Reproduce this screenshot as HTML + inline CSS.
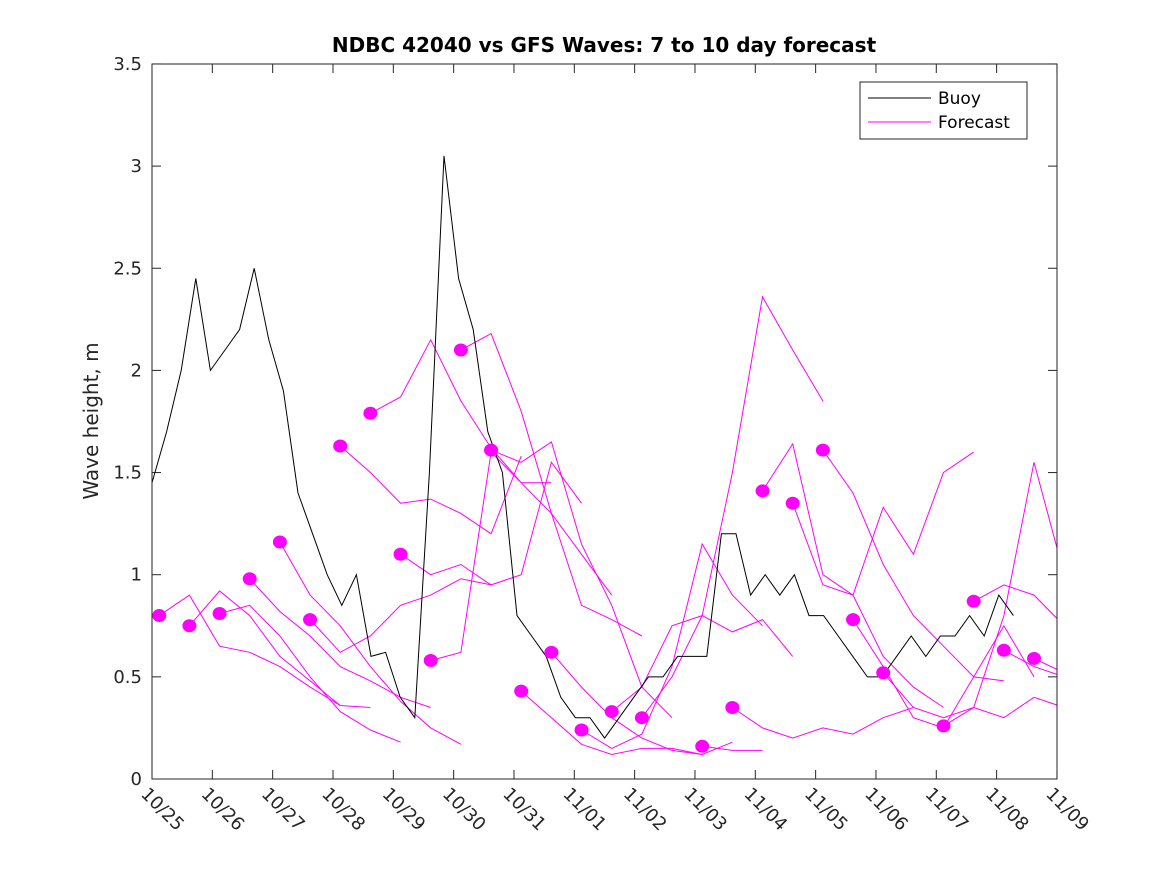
<!DOCTYPE html>
<html><head><meta charset="utf-8"><style>
body{margin:0;background:#fff;font-family:"DejaVu Sans","Liberation Sans",sans-serif}
svg text{font-family:"DejaVu Sans","Liberation Sans",sans-serif}
</style></head><body>
<svg id="chart" width="1167" height="875" viewBox="0 0 1167 875" xmlns="http://www.w3.org/2000/svg">
<defs><clipPath id="plotclip"><rect x="152" y="64" width="905" height="715"/></clipPath></defs>
<rect width="1167" height="875" fill="#fff"/>
<text x="604" y="52" text-anchor="middle" font-size="20" font-weight="bold" fill="#000">NDBC 42040 vs GFS Waves: 7 to 10 day forecast</text>
<text transform="translate(98,421) rotate(-90)" text-anchor="middle" font-size="20" fill="#262626">Wave height, m</text>
<g id="grid"></g>
<g id="marks" clip-path="url(#plotclip)"></g>
<rect x="152" y="64" width="905" height="715" fill="none" stroke="#262626" stroke-width="1"/>
<g>
<rect x="860" y="82" width="167" height="57" fill="#fff" stroke="#262626"/>
<line x1="868" y1="98" x2="931" y2="98" stroke="#000"/>
<text x="938" y="104" font-size="17" fill="#000">Buoy</text>
<line x1="868" y1="122" x2="931" y2="122" stroke="#ff00ff"/>
<text x="938" y="128" font-size="17" fill="#000">Forecast</text>
</g>
</svg>
<script>
const xLabels=["10/25","10/26","10/27","10/28","10/29","10/30","10/31","11/01","11/02","11/03","11/04","11/05","11/06","11/07","11/08","11/09"];
const yTicks=[0,0.5,1,1.5,2,2.5,3,3.5];
const buoyStep=0.242;
const buoyVals=[1.45,1.7,2.0,2.45,2.0,2.1,2.2,2.5,2.15,1.9,1.4,1.2,1.0,0.85,1.0,0.6,0.62,0.4,0.3,1.5,3.05,2.45,2.2,1.7,1.5,0.8,0.7,0.6,0.4,0.3,0.3,0.2,0.3,0.4,0.5,0.5,0.6,0.6,0.6,1.2,1.2,0.9,1.0,0.9,1.0,0.8,0.8,0.7,0.6,0.5,0.5,0.6,0.7,0.6,0.7,0.7,0.8,0.7,0.9,0.8];
const fcStep=0.5;
const fcStarts=[0.12,0.62,1.12,1.62,2.12,2.62,3.12,3.62,4.12,4.62,5.12,5.62,6.12,6.62,7.12,7.62,8.12,9.12,9.62,10.12,10.62,11.12,11.62,12.12,13.12,13.62,14.12,14.62];
const fcVals=[
[0.80,0.90,0.65,0.62,0.55,0.45,0.36],
[0.75,0.92,0.80,0.60,0.48,0.36,0.35],
[0.81,0.85,0.70,0.50,0.33,0.24,0.18],
[0.98,0.82,0.70,0.55,0.48,0.40,0.35],
[1.16,0.90,0.75,0.55,0.38,0.25,0.17],
[0.78,0.62,0.70,0.85,0.90,0.98,0.95],
[1.63,1.50,1.35,1.37,1.30,1.20,1.58],
[1.79,1.87,2.15,1.85,1.62,1.45,1.45],
[1.10,1.00,1.05,0.95,1.00,1.55,1.35],
[0.58,0.62,1.60,1.45,1.30,1.10,0.90],
[2.10,2.18,1.80,1.30,0.85,0.78,0.70],
[1.61,1.55,1.65,1.15,0.85,0.45,0.30],
[0.43,0.30,0.17,0.12,0.15,0.15,0.12],
[0.62,0.45,0.30,0.20,0.14,0.12,0.18],
[0.24,0.15,0.22,0.55,1.15,0.90,0.75],
[0.33,0.45,0.75,0.80,0.72,0.78,0.60],
[0.30,0.50,0.80,1.50,2.36,2.10,1.85],
[0.16,0.14,0.14],
[0.35,0.25,0.20,0.25,0.22,0.30,0.35],
[1.41,1.64,1.00,0.90,0.60,0.45,0.35],
[1.35,0.95,0.90,1.33,1.10,1.50,1.60],
[1.61,1.40,1.05,0.80,0.65,0.50,0.48],
[0.78,0.55,0.30,0.25,0.50,0.75,0.50],
[0.52,0.35,0.30,0.35,0.30,0.40,0.35],
[0.26,0.35,0.80,1.55,1.00],
[0.87,0.95,0.90,0.75],
[0.63,0.55,0.50],
[0.59,0.52]
];
const X=d=>152+d*60.33, Y=v=>779-v*204.3;
const NS="http://www.w3.org/2000/svg";
const grid=document.getElementById('grid'), marks=document.getElementById('marks');
function mk(tag,attrs,parent){const e=document.createElementNS(NS,tag);for(const k in attrs)e.setAttribute(k,attrs[k]);parent.appendChild(e);return e;}
yTicks.forEach(v=>{
  const t=mk('line',{x1:152,x2:161,y1:Y(v),y2:Y(v),stroke:'#262626'},grid);
  
  
  mk('line',{x1:1048,x2:1057,y1:Y(v),y2:Y(v),stroke:'#262626'},grid);
  const l=mk('text',{x:142,y:Y(v)+6,'text-anchor':'end','font-size':18,fill:'#262626'},grid);
  l.textContent=String(v);
  
  
});
xLabels.forEach((s,i)=>{
  const x=X(i);
  const t=mk('line',{x1:x,x2:x,y1:779,y2:770,stroke:'#262626'},grid);
  
  
  mk('line',{x1:x,x2:x,y1:64,y2:73,stroke:'#262626'},grid);
  const l=mk('text',{transform:`translate(${x-12},${795}) rotate(45)`,'font-size':18,fill:'#262626'},grid);
  l.textContent=s;
  
  
});
fcStarts.forEach((d0,i)=>{
  const vals=fcVals[i];
  const pts=vals.map((v,j)=>X(d0+j*fcStep).toFixed(1)+','+Y(v).toFixed(1)).join(' ');
  const p=mk('polyline',{points:pts,fill:'none',stroke:'#ff00ff','stroke-width':1},marks);
  
  
});
const bpts=buoyVals.map((v,j)=>X(j*buoyStep).toFixed(1)+','+Y(v).toFixed(1)).join(' ');
const b=mk('polyline',{points:bpts,fill:'none',stroke:'#000','stroke-width':1},marks);


fcStarts.forEach((d0,i)=>{
  const c=mk('ellipse',{cx:X(d0),cy:Y(fcVals[i][0]),rx:7,ry:6.5,fill:'#ff00ff'},marks);
  
  
});
</script>
</body></html>
